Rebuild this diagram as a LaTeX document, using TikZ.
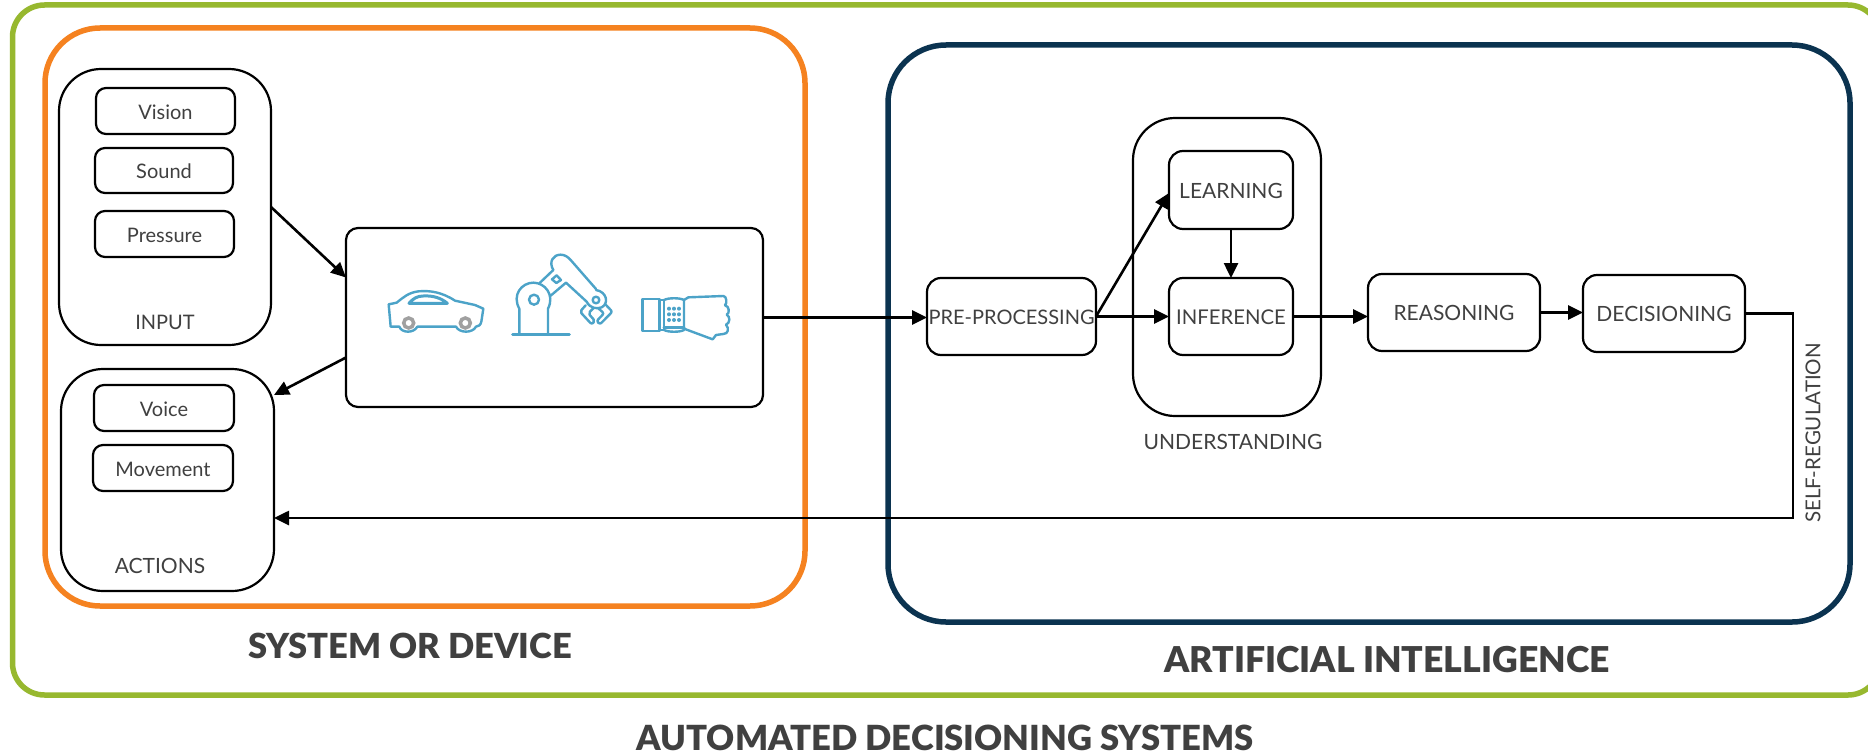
\documentclass[tikz,border=0pt]{standalone}
\usepackage{fontspec}
\setmainfont{Lato}[BoldFont={Lato Black}]
\usetikzlibrary{arrows.meta,calc}
\definecolor{txt}{HTML}{404040}
\definecolor{grn}{HTML}{97B82F}
\definecolor{org}{HTML}{F58220}
\definecolor{nvy}{HTML}{0B3350}
\definecolor{ico}{HTML}{4CA3C8}
\definecolor{whl}{HTML}{A0A0A0}
\tikzset{
  frame/.style={draw,line width=2.2pt,rounded corners=12pt,inner sep=0pt,outer sep=0pt,anchor=center},
  sm/.style={frame,rounded corners=10pt,text=txt,font=\fontsize{20}{24}\selectfont,text height=17pt,text depth=0.2pt},
  proc/.style={frame,rounded corners=14pt,text=txt,font=\fontsize{21}{24}\selectfont,text height=17pt,text depth=0.2pt},
  tall/.style={frame,rounded corners=42pt},
  lab/.style={text=txt,inner sep=0pt,font=\fontsize{21}{24}\selectfont},
  ttl/.style={text=txt,inner sep=0pt,font=\fontsize{#1}{40}\selectfont\bfseries},
  conn/.style={line width=2.6pt,-{Triangle[length=15pt,width=14pt]}},
  icon/.style={draw=ico,line width=2.4pt,line join=round,line cap=round},
}
\newcommand{\bx}[7]{\node[#1,minimum width=#5-#4,minimum height=#7-#6] (#2) at ({(#4+#5)/2},{(#6+#7)/2}) {#3};}
\begin{document}
\begin{tikzpicture}[x=1pt,y=-1pt]
\clip (0,0) rectangle (1868,752);
\fill[white] (0,0) rectangle (1868,752);
% large frames
\draw[grn,line width=5.5pt,rounded corners=32pt] (12.5,5) rectangle (1880,695);
\draw[org,line width=5.5pt,rounded corners=55pt] (45,28) rectangle (805,606);
\draw[nvy,line width=5.5pt,rounded corners=58pt] (888,45) rectangle (1850,622);
% input
\bx{tall}{input}{}{59}{271}{69}{345}
\bx{sm}{vision}{Vision}{96}{235}{88}{134}
\bx{sm}{sound}{Sound}{95}{233}{148}{193}
\bx{sm}{pressure}{Pressure}{95}{234}{211}{257}
\node[lab,font=\fontsize{20}{24}\selectfont] (inputlab) at (165,322) {INPUT};
% actions
\bx{tall}{actions}{}{61}{274}{369}{591}
\bx{sm}{voice}{Voice}{94}{234}{385}{431}
\bx{sm}{movement}{Movement}{93}{233}{445}{491}
\node[lab] (actionslab) at (160,566) {ACTIONS};
% device
\bx{frame}{device}{}{346}{763}{228}{407}
% AI
\bx{proc}{pre}{\fontsize{20}{24}\selectfont PRE-PROCESSING}{927}{1096}{278}{355}
\bx{tall}{under}{}{1133}{1321}{118}{416}
\bx{proc}{learn}{LEARNING}{1169}{1293}{151}{229}
\bx{proc}{infer}{\fontsize{20.3}{24}\selectfont INFERENCE}{1169}{1293}{278}{355}
\bx{proc}{reason}{REASONING}{1368}{1540}{274}{351}
\bx{proc}{decide}{DECISIONING}{1583}{1745}{275}{352}
\node[lab] (underlab) at (1233,442) {UNDERSTANDING};
\node[lab,rotate=90,font=\fontsize{20.5}{24}\selectfont] (selflab) at (1813,433) {SELF-REGULATION};
% titles
\node[ttl=34.5] (t1) at (410,646) {SYSTEM OR DEVICE};
\node[ttl=35.6] (t2) at (1387,660) {ARTIFICIAL INTELLIGENCE};
\node[ttl=34.6] (t3) at (945,738) {AUTOMATED DECISIONING SYSTEMS};
% connectors
\draw[conn] (input.east) -- ([yshift=40pt]device.west);
\draw[conn] ([yshift=-40pt]device.west) -- ([yshift=85pt]actions.east);
\draw[conn] (device.east) -- (device.east -| pre.west);
\draw[conn] (pre.east) -- ([yshift=-3pt]learn.west);
\draw[conn] (pre.east) -- (infer.west);
\draw[conn] (learn.south) -- (infer.north);
\draw[conn] (infer.east) -- (infer.east -| reason.west);
\draw[conn] (reason.east) -- (reason.east -| decide.west);
\coordinate (fbbot) at (1793,518);
\draw[conn] (decide.east) -| (fbbot) -- (fbbot -| actions.east);
% icons in zoom-crop coordinates
\begin{scope}[shift={(340,220)},x=0.33333pt,y=-0.33333pt]
  % car
  \draw[icon] (146,253) -- (170,248) .. controls (190,232) and (205,218) .. (235,214)
     .. controls (270,211) and (305,216) .. (345,242) -- (405,255) -- (430,266) -- (424,305)
     .. controls (422,315) and (415,320) .. (408,320) .. controls (398,340) and (358,340) .. (348,320)
     -- (232,320) .. controls (222,340) and (185,340) .. (178,320) -- (152,320) -- cycle;
  \draw[icon,line width=3pt] (207,250) .. controls (220,235) and (232,228) .. (250,228) .. controls (280,226) and (305,235) .. (322,250) -- cycle;
  \draw[whl,fill=white,line width=3.5pt] (206,309) circle[radius=15];
  \draw[whl,fill=white,line width=3.5pt] (376,309) circle[radius=15];
  % robot arm
  \draw[icon,line width=3pt] (518,344) -- (688,344);
  \draw[icon] (538,344) -- (538,266) .. controls (515,225) and (545,188) .. (580,188)
     .. controls (615,188) and (645,225) .. (624,266) -- (624,344);
  \draw[icon] (582,239) circle[radius=15];
  \draw[icon] (600,188) -- (640,150);
  \draw[icon] (632,227) -- (678,188);
  \draw[icon] (640,150) .. controls (625,125) and (640,104) .. (662,104) .. controls (675,104) and (685,112) .. (692,120) -- (768,207);
  \draw[icon] (678,188) -- (740,245);
  \draw[icon] (636,178) -- (650,166) -- (663,180) -- (649,189) -- cycle;
  \draw[icon] (768,210) .. controls (800,215) and (808,250) .. (785,262) .. controls (770,268) and (750,265) .. (740,245);
  \draw[icon] (768,240) circle[radius=10];
  \draw[icon,rounded corners=2pt] (737,256) -- (720,275) -- (755,313) -- (765,303) -- (745,280) -- (760,265);
  \draw[icon,rounded corners=2pt] (798,255) -- (817,275) -- (780,313) -- (770,303) -- (792,280) -- (775,265);
  % wrist
  \draw[icon] (958,237) -- (908,237) -- (908,333) -- (958,333) -- cycle;
  \draw[icon] (972,240) -- (972,330);
  \draw[icon] (972,240) .. controls (985,233) and (1020,233) .. (1032,240) -- (1032,330) .. controls (1020,337) and (985,337) .. (972,330);
  \draw[icon,line width=3pt] (972,322) -- (1032,322);
  \draw[icon] (958,240) -- (972,240) (958,330) -- (972,330);
  \draw[icon] (1032,240) -- (1045,232) -- (1150,228) .. controls (1160,228) and (1162,250) .. (1155,256) .. controls (1168,258) and (1170,280) .. (1160,284)
     .. controls (1172,290) and (1170,310) .. (1158,314) .. controls (1168,325) and (1165,342) .. (1150,342) -- (1128,345) -- (1118,358) -- (1032,326);
  \foreach \yy in {266,283,300} \foreach \xx in {987,1002,1017} \fill[ico] (\xx,\yy) circle[radius=6];
\end{scope}
\end{tikzpicture}
\end{document}
